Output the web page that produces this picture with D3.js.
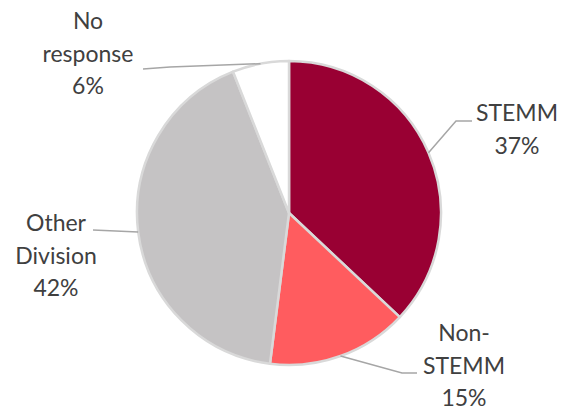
<!DOCTYPE html>
<html>
<head>
<meta charset="utf-8">
<script src="https://cdn.jsdelivr.net/npm/d3@7/dist/d3.min.js"></script>
<style>
  html, body { margin: 0; padding: 0; background: #ffffff; }
  svg { display: block; }
  .label { font-family: Lato, "Open Sans", sans-serif; font-size: 23px; fill: #404040; }
</style>
</head>
<body>
<svg id="chart" width="563" height="411"></svg>
<script>
// Share of respondents by division
const categories = ["STEMM", "Non-STEMM", "Other Division", "No response"];
const values = [37, 15, 42, 6];
const colors = ["#990033", "#FF5C5F", "#C5C3C4", "#FFFFFF"];
// Label text lines for each slice (name split across lines, then percentage)
const labelLines = [["STEMM"], ["Non-", "STEMM"], ["Other", "Division"], ["No", "response"]];

// Layout: label block centre and leader-line elbow for each slice
const labelLayout = [
  { x: 517, y: 112, elbow: [[456, 121], [472, 121]] },
  { x: 464, y: 332, elbow: [[402, 373], [417, 373]] },
  { x: 56,  y: 222, elbow: [[93, 230]] },
  { x: 88,  y: 20,  elbow: [[170, 67], [143, 69]] }
];

const cx = 289, cy = 213, radius = 152;
const lineGap = 32.5;

const svg = d3.select("#chart");
const g = svg.append("g").attr("transform", `translate(${cx},${cy})`);

const pie = d3.pie().sort(null).value(d => d)(values);
const arc = d3.arc().innerRadius(0).outerRadius(radius);

g.selectAll("path.slice")
  .data(pie)
  .join("path")
  .attr("class", "slice")
  .attr("d", arc)
  .attr("fill", (d, i) => colors[i])
  .attr("stroke", "#D9D9D9")
  .attr("stroke-width", 2.5)
  .attr("stroke-linejoin", "round");

// Leader lines from the outer edge at each slice's mid angle
pie.forEach((d, i) => {
  const mid = (d.startAngle + d.endAngle) / 2;
  const start = [cx + radius * Math.sin(mid), cy - radius * Math.cos(mid)];
  const pts = [start].concat(labelLayout[i].elbow);
  svg.append("path")
    .attr("d", d3.line()(pts))
    .attr("fill", "none")
    .attr("stroke", "#A6A6A6")
    .attr("stroke-width", 1.5);
});

// Labels: name lines followed by the percentage
pie.forEach((d, i) => {
  const lines = labelLines[i].concat([d.data + "%"]);
  const t = svg.append("text")
    .attr("class", "label")
    .attr("text-anchor", "middle");
  lines.forEach((s, k) => {
    t.append("tspan")
      .attr("x", labelLayout[i].x)
      .attr("y", labelLayout[i].y + k * lineGap)
      .attr("dominant-baseline", "central")
      .text(s);
  });
});
</script>
</body>
</html>
